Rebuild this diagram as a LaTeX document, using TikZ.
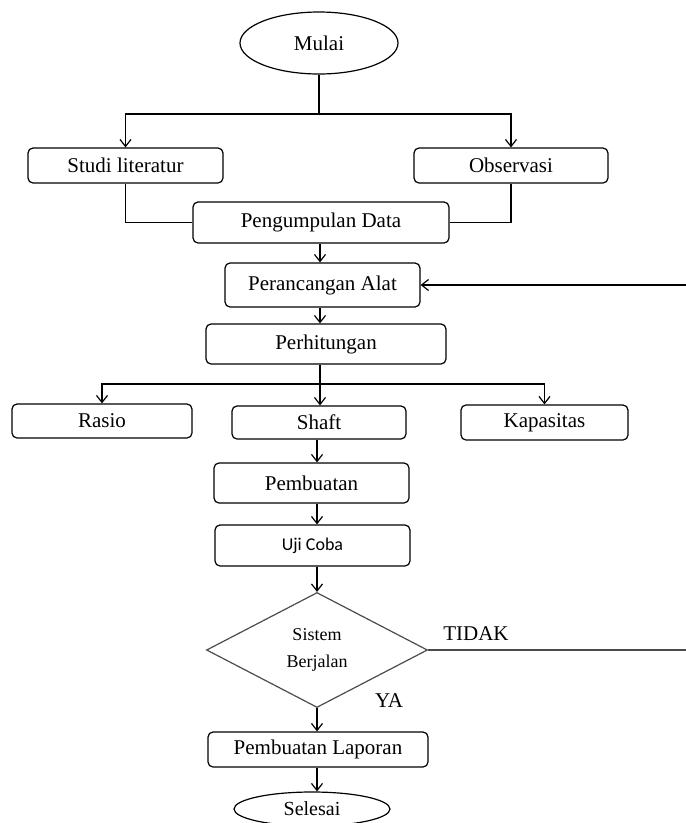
\documentclass[tikz,border=0pt]{standalone}
\usepackage{fontspec}
\setmainfont{Liberation Serif}
\newfontfamily\calibri{Carlito}
\usetikzlibrary{shapes.geometric,arrows.meta}

\begin{document}
\begin{tikzpicture}[
  x=1pt, y=-1pt,
  kotak/.style={draw,rounded corners=5pt,line width=1.2pt,inner sep=0pt,
    font=\fontsize{21}{25}\selectfont},
  elips/.style={draw,ellipse,line width=1.2pt,inner sep=0pt,
    font=\fontsize{21}{25}\selectfont},
  keputusan/.style={draw=black!70,diamond,line width=1.2pt,inner sep=0pt,
    align=center,font=\fontsize{18}{27}\selectfont},
  ket/.style={font=\fontsize{21}{25}\selectfont},
  panah/.style={-{Straight Barb[length=7pt,width=11pt]},line width=1.2pt},
  garis/.style={line width=1.2pt},
]
\useasboundingbox (0,0) rectangle (686,823);
\fill[white] (0,0) rectangle (686,823);
\clip (0,0) rectangle (686,823);

\coordinate (kolomA) at (320,0);
\coordinate (kolomB) at (317,0);

% ----- mulai dan pengumpulan data -----
\node[elips,minimum width=158,minimum height=62] (mulai) at (319,43) {Mulai};
\coordinate (cabang1) at (319,114);
\node[kotak,minimum width=195,minimum height=35] (studi) at (125.5,165.5) {Studi literatur};
\node[kotak,minimum width=194,minimum height=35] (obs) at (511,165.5) {Observasi};
\node[kotak,minimum width=256,minimum height=41] (kumpul) at (321,222.5) {Pengumpulan Data};

\draw[garis] (mulai) -- (cabang1);
\draw[panah] (cabang1) -| (studi);
\draw[panah] (cabang1) -| (obs);
\draw[garis] (studi) |- (kumpul);
\draw[garis] (obs) |- (kumpul);

% ----- perancangan dan perhitungan -----
\node[kotak,minimum width=195,minimum height=44] (rancang) at (322.5,285) {Perancangan Alat};
\node[kotak,minimum width=240,minimum height=40] (hitung) at (326,344) {Perhitungan};
\coordinate (cabang2) at (320,384);
\node[kotak,minimum width=180,minimum height=34] (rasio) at (102,421) {Rasio};
\node[kotak,minimum width=174,minimum height=33] (shaft) at (319,422.5) {Shaft};
\node[kotak,minimum width=167,minimum height=35] (kapasitas) at (544.5,422.5) {Kapasitas};

\draw[panah] (kumpul.south -| kolomA) -- (rancang.north -| kolomA);
\draw[panah] (rancang.south -| kolomA) -- (hitung.north -| kolomA);
\draw[garis] (hitung.south -| kolomA) -- (cabang2);
\draw[panah] (cabang2) -| (rasio);
\draw[panah] (cabang2) -| (kapasitas);
\draw[panah] (cabang2) -- (shaft.north -| cabang2);

% ----- pembuatan, uji coba, keputusan -----
\node[kotak,minimum width=195,minimum height=40] (buat) at (311.5,483) {Pembuatan};
\node[kotak,minimum width=195,minimum height=41,
  font=\calibri\fontsize{18}{22}\selectfont] (uji) at (312.5,545.5) {Uji Coba};
\node[keputusan,minimum width=221,minimum height=115] (sistem) at (317,650) {Sistem\\Berjalan};
\node[ket] (tidak) at (476,634) {TIDAK};
\node[ket] (ya) at (389,701) {YA};
\node[kotak,minimum width=220,minimum height=35] (laporan) at (318,749.5) {Pembuatan Laporan};
\node[elips,minimum width=156,minimum height=34,
  font=\fontsize{20}{24}\selectfont] (selesai) at (312,809) {Selesai};

\draw[panah] (shaft.south -| kolomB) -- (buat.north -| kolomB);
\draw[panah] (buat.south -| kolomB) -- (uji.north -| kolomB);
\draw[panah] (uji.south -| kolomB) -- (sistem.north);
\draw[panah] (sistem.south) -- (sistem.south |- laporan.north);
\draw[panah] (laporan.south -| kolomB) -- (selesai.north -| kolomB);

% ----- kembali ke perancangan -----
\coordinate (balik1) at (700,650);
\coordinate (balik2) at (700,285);
\draw[garis,draw=black!70] (sistem.east) -- (balik1) -- (balik2);
\draw[panah] (balik2) -- (rancang.east);

\end{tikzpicture}
\end{document}
